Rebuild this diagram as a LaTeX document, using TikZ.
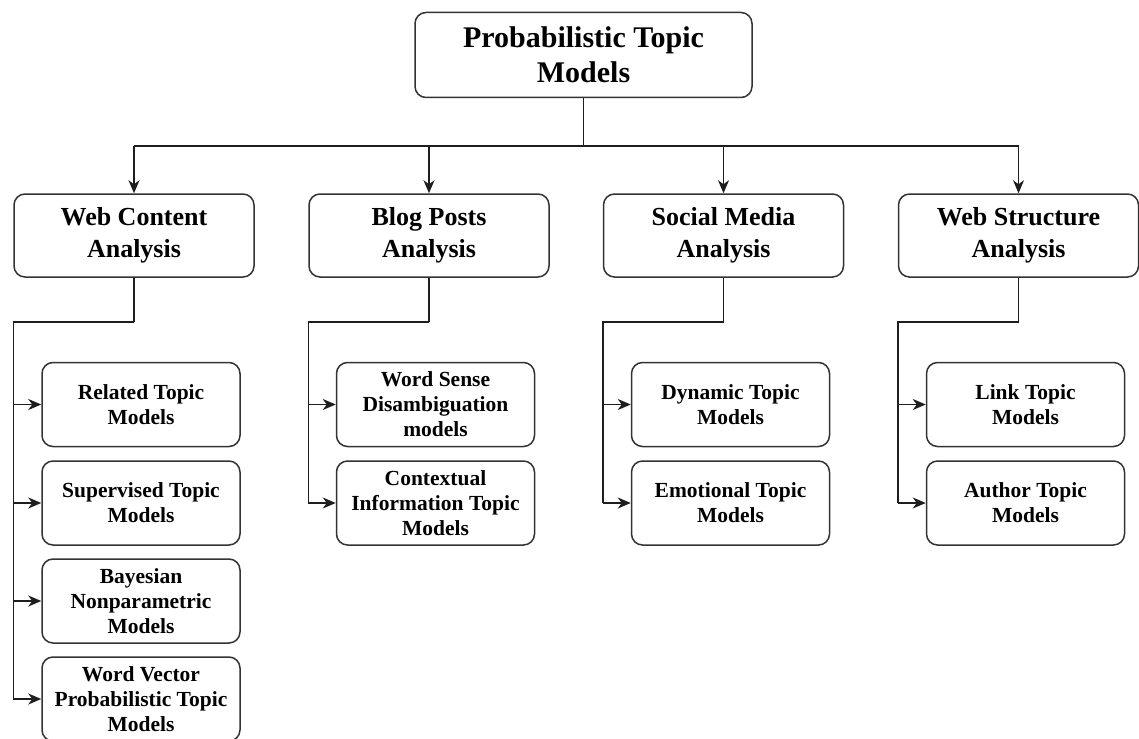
\documentclass[tikz,border=0pt]{standalone}
\usepackage{fontspec}
\setmainfont{Liberation Serif}
\usetikzlibrary{arrows.meta}
\definecolor{boxc}{HTML}{333333}
\definecolor{linec}{HTML}{1E1E1E}
\begin{document}
\begin{tikzpicture}[x=1pt, y=-1pt,
  box/.style={draw=boxc, line width=1.5pt, rounded corners=11pt, fill=white,
              align=center, inner sep=0pt, text=black},
  rootbox/.style={box, minimum width=337pt, minimum height=85pt,
              font=\fontsize{30}{35}\selectfont\bfseries},
  catbox/.style={box, minimum width=240pt, minimum height=83pt,
              font=\fontsize{26}{32}\selectfont\bfseries},
  leafbox/.style={box, minimum width=198pt, minimum height=84pt,
              font=\fontsize{21.5}{25}\selectfont\bfseries},
  link/.style={draw=linec, line width=1.5pt},
  arr/.style={link, -{Stealth[length=13pt,width=11pt,inset=4pt]}}
]
\useasboundingbox (0,0) rectangle (1139,738);

% root
\node[rootbox] (root) at (583.5,55) {Probabilistic Topic\\Models};

% categories
\node[catbox] (wc) at (134,235.5)  {Web Content\\Analysis};
\node[catbox] (bp) at (429,235.5)  {Blog Posts\\Analysis};
\node[catbox] (sm) at (723.5,235.5) {Social Media\\Analysis};
\node[catbox] (ws) at (1018.5,235.5) {Web Structure\\Analysis};

% leaves: web content
\node[leafbox] (rt) at (141,404.5) {Related Topic\\Models};
\node[leafbox] (st) at (141,503)   {Supervised Topic\\Models};
\node[leafbox] (bn) at (141,601)   {Bayesian\\Nonparametric\\Models};
\node[leafbox] (wv) at (141,699)   {Word Vector\\Probabilistic Topic\\Models};

% leaves: blog posts
\node[leafbox] (wsd) at (435.5,404.5) {Word Sense\\Disambiguation\\models};
\node[leafbox] (cit) at (435.5,503)   {Contextual\\Information Topic\\Models};

% leaves: social media
\node[leafbox] (dt) at (730.5,404.5) {Dynamic Topic\\Models};
\node[leafbox] (et) at (730.5,503)   {Emotional Topic\\Models};

% leaves: web structure
\node[leafbox] (lt) at (1025.5,404.5) {Link Topic\\Models};
\node[leafbox] (at) at (1025.5,503)   {Author Topic\\Models};

% root to categories
\draw[link] (root.south) -- ++(0,48) coordinate (bus);
\draw[link] (bus -| wc.north) -- (bus -| ws.north);
\foreach \c in {wc,bp,sm,ws}
  \draw[arr] (bus -| \c.north) -- (\c.north);

% category elbows
\foreach \c in {wc,bp,sm,ws} {
  \draw[link] (\c.south) -- ++(0,44) coordinate (\c m);
  \coordinate (\c l) at (\c m -| \c.west);
}
\draw[link] (wcm) -- (wcl) -- (wcl |- wv.west);
\draw[link] (bpm) -- (bpl) -- (bpl |- cit.west);
\draw[link] (smm) -- (sml) -- (sml |- et.west);
\draw[link] (wsm) -- (wsl) -- (wsl |- at.west);

% branches to leaves
\foreach \l in {rt,st,bn,wv} \draw[arr] (wcl |- \l.west) -- (\l.west);
\foreach \l in {wsd,cit} \draw[arr] (bpl |- \l.west) -- (\l.west);
\foreach \l in {dt,et} \draw[arr] (sml |- \l.west) -- (\l.west);
\foreach \l in {lt,at} \draw[arr] (wsl |- \l.west) -- (\l.west);
\end{tikzpicture}
\end{document}
